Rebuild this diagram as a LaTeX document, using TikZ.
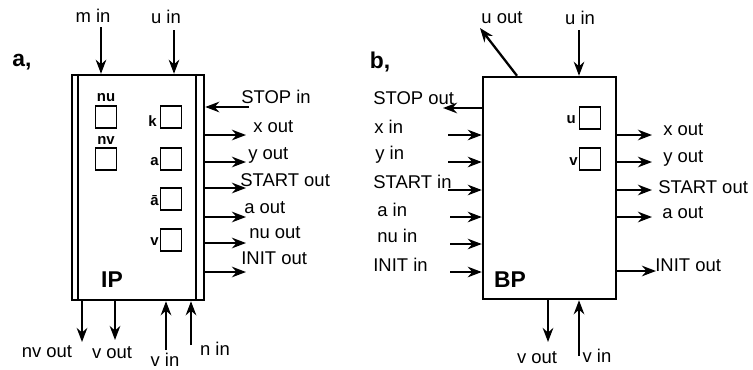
\documentclass[tikz,border=0pt]{standalone}
\usepackage{fontspec}
\setmainfont{Liberation Sans}
\usetikzlibrary{arrows.meta}
\tikzset{%
  wire/.style={line width=1.3pt,-{Stealth[length=8pt,width=6pt]}},%
  unit/.style={draw,line width=1.4pt,inner sep=0pt},%
  reg/.style={draw,line width=1.1pt,minimum width=0.42cm,minimum height=0.44cm,inner sep=0pt},%
  sig/.style={inner sep=0pt,font=\fontsize{10.5}{12}\selectfont},%
  small/.style={inner sep=0pt,font=\fontsize{8.5}{10}\selectfont\bfseries},%
  title/.style={inner sep=0pt,font=\fontsize{13}{14}\selectfont\bfseries}%
}

\begin{document}
\begin{tikzpicture}[x=0.02cm,y=-0.02cm]%
          \useasboundingbox (0,0) rectangle (753,369);%
          % a) -- IP
          \node [title] (ta) at (22,62) {a,};%
          \node [unit,minimum width=2.64cm,minimum height=4.5cm] (IP) at (138,187.5) {};%
          \draw [line width=1.4pt] ([xshift=0.14cm]IP.north west) -- ([xshift=0.14cm]IP.south west);%
          \draw [line width=1.4pt] ([xshift=-0.18cm]IP.north east) -- ([xshift=-0.18cm]IP.south east);%
          \node [title] (IPn) at (112,280) {IP};%
          \node [reg] (nu) at (106,117) {};%
          \node [reg] (nv) at (106,159) {};%
          \node [small] (nul) at (106,98) {nu};%
          \node [small] (nvl) at (106,140) {nv};%
          \node [reg] (k) at (171,117) {};%
          \node [reg] (a) at (171,159) {};%
          \node [reg] (ab) at (171,199) {};%
          \node [reg] (v) at (171,240) {};%
          \node [small,anchor=east] (kl) at (157,121) {k};%
          \node [small,anchor=east] (al) at (159,162) {a};%
          \node [small,anchor=east] (abl) at (159,201) {\=a};%
          \node [small,anchor=east] (vl) at (159,242) {v};%
          % top
          \node [sig] (mi) at (93,16) {m in};%
          \node [sig] (ui) at (166,17) {u in};%
          \coordinate (mi0) at (101,27);%
          \coordinate (ui0) at (174,30);%
          \draw [wire] (mi0) -- (mi0 |- IP.north);%
          \draw [wire] (ui0) -- (ui0 |- IP.north);%
          % right
          \coordinate (si0) at (249,107);%
          \coordinate (xo0) at (246,135);%
          \coordinate (yo0) at (246,162);%
          \coordinate (so0) at (246,188);%
          \coordinate (ao0) at (246,217);%
          \coordinate (nuo0) at (246,243);%
          \coordinate (io0) at (246,272);%
          \draw [wire] (si0) -- (si0 -| IP.east);%
          \draw [wire] (IP.east |- xo0) -- (xo0);%
          \draw [wire] (IP.east |- yo0) -- (yo0);%
          \draw [wire] (IP.east |- so0) -- (so0);%
          \draw [wire] (IP.east |- ao0) -- (ao0);%
          \draw [wire] (IP.east |- nuo0) -- (nuo0);%
          \draw [wire] (IP.east |- io0) -- (io0);%
          \node [sig,anchor=west] (si) at (241,97) {STOP in};%
          \node [sig,anchor=west] (xo) at (253,127) {x out};%
          \node [sig,anchor=west] (yo) at (248,155) {y out};%
          \node [sig,anchor=west] (so) at (240,180) {START out};%
          \node [sig,anchor=west] (ao) at (244,208) {a out};%
          \node [sig,anchor=west] (nuo) at (249,233) {nu out};%
          \node [sig,anchor=west] (io) at (241,258) {INIT out};%
          % bottom
          \coordinate (nvo0) at (82,342);%
          \coordinate (vo0) at (115,340);%
          \coordinate (vi0) at (166,350);%
          \coordinate (ni0) at (191,345);%
          \draw [wire] (IP.south -| nvo0) -- (nvo0);%
          \draw [wire] (IP.south -| vo0) -- (vo0);%
          \draw [wire] (vi0) -- (vi0 |- IP.south);%
          \draw [wire] (ni0) -- (ni0 |- IP.south);%
          \node [sig] (nvo) at (47,352) {nv out};%
          \node [sig] (vo) at (112,353) {v out};%
          \node [sig] (vi) at (165,360) {v in};%
          \node [sig] (ni) at (215,349) {n in};%
          % b) -- BP
          \node [title] (tb) at (380,62) {b,};%
          \node [unit,minimum width=2.66cm,minimum height=4.44cm] (BP) at (549.5,188) {};%
          \node [title] (BPn) at (510,280) {BP};%
          \node [reg] (u) at (590,118) {};%
          \node [reg] (vb) at (590,159) {};%
          \node [small,anchor=east] (ul) at (576,120) {u};%
          \node [small,anchor=east] (vbl) at (578,162) {v};%
          % top
          \node [sig] (uo) at (502,18) {u out};%
          \node [sig] (uib) at (580,18) {u in};%
          \coordinate (uo0) at (480,28);%
          \coordinate (uib0) at (579,30);%
          \draw [wire] ([xshift=-0.65cm]BP.north) -- (uo0);%
          \draw [wire] (uib0) -- (uib0 |- BP.north);%
          % left
          \coordinate (sob0) at (443,108);%
          \coordinate (xi0) at (448,135);%
          \coordinate (yi0) at (448,162);%
          \coordinate (sti0) at (448,190);%
          \coordinate (ai0) at (450,217);%
          \coordinate (nui0) at (450,244);%
          \coordinate (ii0) at (450,272);%
          \draw [wire] (BP.west |- sob0) -- (sob0);%
          \draw [wire] (xi0) -- (xi0 -| BP.west);%
          \draw [wire] (yi0) -- (yi0 -| BP.west);%
          \draw [wire] (sti0) -- (sti0 -| BP.west);%
          \draw [wire] (ai0) -- (ai0 -| BP.west);%
          \draw [wire] (nui0) -- (nui0 -| BP.west);%
          \draw [wire] (ii0) -- (ii0 -| BP.west);%
          \node [sig,anchor=west] (sob) at (373,98) {STOP out};%
          \node [sig,anchor=west] (xi) at (374,127) {x in};%
          \node [sig,anchor=west] (yi) at (375,155) {y in};%
          \node [sig,anchor=west] (sti) at (373,182) {START in};%
          \node [sig,anchor=west] (ai) at (377,210) {a in};%
          \node [sig,anchor=west] (nui) at (377,236) {nu in};%
          \node [sig,anchor=west] (ii) at (373,265) {INIT in};%
          % right
          \coordinate (xob0) at (652,135);%
          \coordinate (yob0) at (652,162);%
          \coordinate (sobr0) at (652,190);%
          \coordinate (aob0) at (652,217);%
          \coordinate (iob0) at (656,271);%
          \draw [wire] (BP.east |- xob0) -- (xob0);%
          \draw [wire] (BP.east |- yob0) -- (yob0);%
          \draw [wire] (BP.east |- sobr0) -- (sobr0);%
          \draw [wire] (BP.east |- aob0) -- (aob0);%
          \draw [wire] (BP.east |- iob0) -- (iob0);%
          \node [sig,anchor=west] (xob) at (663,130) {x out};%
          \node [sig,anchor=west] (yob) at (663,158) {y out};%
          \node [sig,anchor=west] (sobr) at (658,187) {START out};%
          \node [sig,anchor=west] (aob) at (662,213) {a out};%
          \node [sig,anchor=west] (iob) at (655,265) {INIT out};%
          % bottom
          \coordinate (vob0) at (548,342);%
          \coordinate (vib0) at (579,356);%
          \draw [wire] (BP.south -| vob0) -- (vob0);%
          \draw [wire] (vib0) -- (vib0 |- BP.south);%
          \node [sig] (vob) at (537,358) {v out};%
          \node [sig] (vib) at (597,356) {v in};%
        \end{tikzpicture}
\end{document}
